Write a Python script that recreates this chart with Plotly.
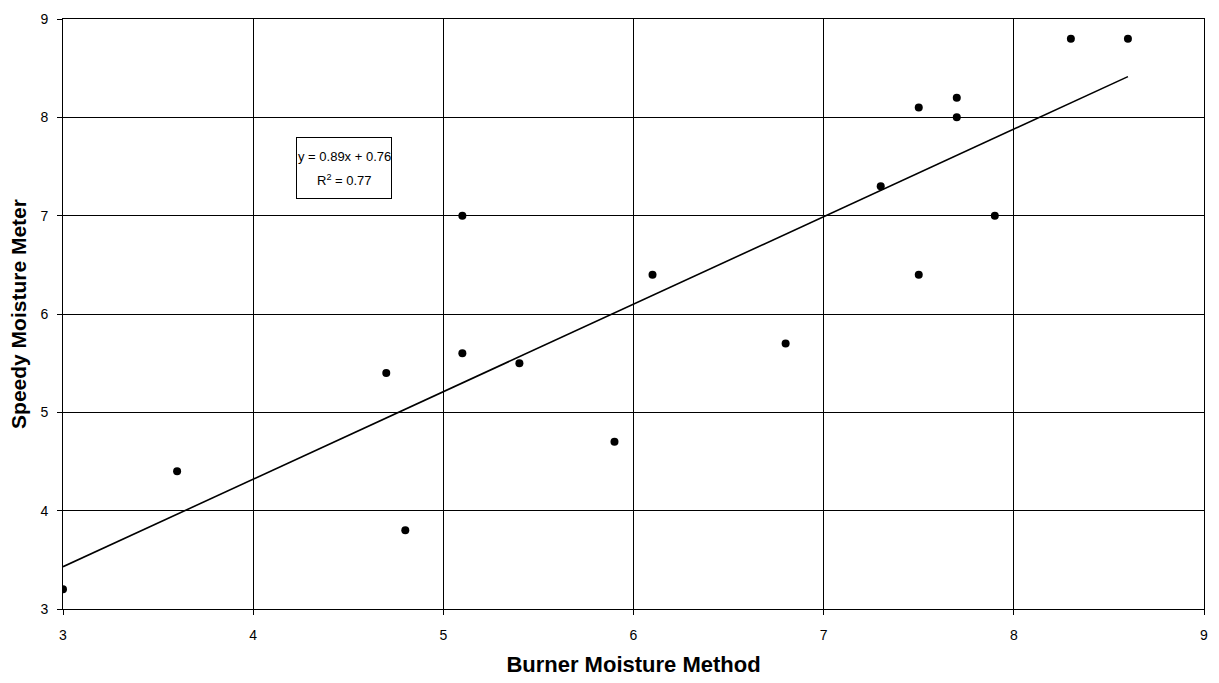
import plotly.graph_objects as go

# Paired moisture readings (%)
burner = [3.0, 3.6, 4.7, 4.8, 5.1, 5.1, 5.4, 5.9, 6.1, 6.8, 7.3, 7.5, 7.5, 7.7, 7.7, 7.9, 8.3, 8.6]
speedy = [3.2, 4.4, 5.4, 3.8, 5.6, 7.0, 5.5, 4.7, 6.4, 5.7, 7.3, 8.1, 6.4, 8.2, 8.0, 7.0, 8.8, 8.8]

# Linear trend fit
slope = 0.89
intercept = 0.76
r_squared = 0.77

tick_vals = [3, 4, 5, 6, 7, 8, 9]

x_fit = [min(burner), max(burner)]
y_fit = [slope * v + intercept for v in x_fit]

font_family = "Liberation Sans, Arial, sans-serif"

fig = go.Figure()
fig.add_trace(go.Scatter(
    x=x_fit, y=y_fit, mode="lines",
    line=dict(color="black", width=1.6),
    hoverinfo="skip", showlegend=False,
))
fig.add_trace(go.Scatter(
    x=burner, y=speedy, mode="markers",
    marker=dict(color="black", size=8),
    showlegend=False,
))

# Equation label: framed box with two spaced lines
eq_x, eq_y = 4.48, 7.48
eq_font = dict(family=font_family, size=13, color="black")
fig.add_annotation(
    x=eq_x, y=eq_y, xref="x", yref="y", text=" ",
    showarrow=False, width=94, height=60,
    bgcolor="white", bordercolor="black", borderwidth=1, borderpad=0,
)
fig.add_annotation(
    x=eq_x, y=eq_y, xref="x", yref="y", yshift=12,
    text=f"y = {slope:.2f}x + {intercept:.2f}",
    showarrow=False, font=eq_font,
)
fig.add_annotation(
    x=eq_x, y=eq_y, xref="x", yref="y", yshift=-12,
    text=f"R<sup>2</sup> = {r_squared:.2f}",
    showarrow=False, font=eq_font,
)

axis_common = dict(
    tickvals=tick_vals,
    showgrid=True, gridcolor="black", gridwidth=1,
    showline=True, linecolor="black", linewidth=1, mirror=True,
    ticks="outside", ticklen=5, tickcolor="black",
    tickfont=dict(family=font_family, size=14, color="black"),
    zeroline=False,
)

fig.update_xaxes(
    range=[3, 9],
    ticklabelstandoff=8,
    title=dict(text="<b>Burner Moisture Method</b>",
               font=dict(family=font_family, size=22, color="black"), standoff=14),
    **axis_common,
)
fig.update_yaxes(
    range=[3, 9],
    ticklabelstandoff=6,
    title=dict(text="<b>Speedy Moisture Meter</b>",
               font=dict(family=font_family, size=21, color="black"), standoff=8),
    **axis_common,
)

fig.update_layout(
    width=1219, height=683,
    margin=dict(l=63, r=11, t=11, b=73),
    paper_bgcolor="white", plot_bgcolor="white",
)

fig.write_html("out.html")
